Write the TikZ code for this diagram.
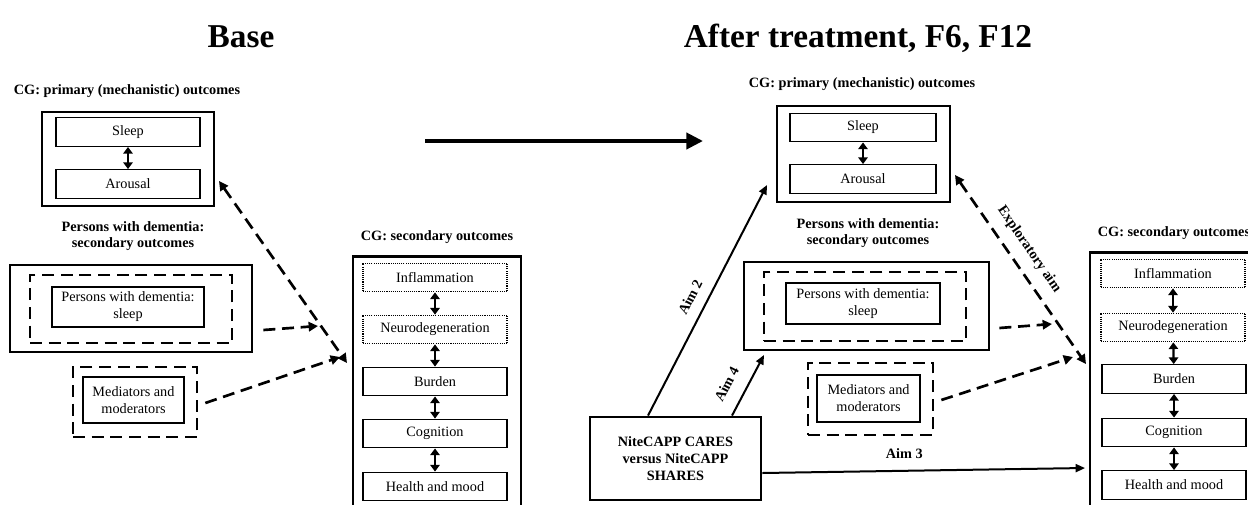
\documentclass[tikz,border=0pt]{standalone}
\usepackage{fontspec}
\setmainfont{Liberation Serif}
\usepackage{tikz}
\usetikzlibrary{arrows.meta,calc}

\newcommand{\boxfont}{\fontsize{10.7}{12.8}\selectfont}
\newcommand{\headfont}{\fontsize{10.7}{11.5}\selectfont\bfseries}
\newcommand{\bigtitle}{\fontsize{25}{30}\selectfont\bfseries}

\begin{document}
\begin{tikzpicture}[x=0.75pt,y=0.75pt,yscale=-1,xscale=1,
  outerbox/.style={draw, line width=2.1pt, inner sep=0pt},
  dashbox/.style={draw, line width=2pt, dash pattern=on 9pt off 5pt, inner sep=0pt},
  itembox/.style={draw, line width=0.9pt, inner sep=0pt, minimum width=108pt, minimum height=21.5pt, align=center, font=\boxfont},
  dotbox/.style={itembox, line width=0.8pt, dash pattern=on 0.8pt off 0.8pt},
  heading/.style={inner sep=0pt, align=center, font=\headfont},
  twoway/.style={line width=1.7pt, {Triangle[length=5pt,width=7pt]}-{Triangle[length=5pt,width=7pt]}},
  dasharrow/.style={line width=2pt, dash pattern=on 9pt off 5pt, -{Triangle[length=7pt,width=7pt]}},
  explarrow/.style={dasharrow, {Triangle[length=7pt,width=7pt]}-{Triangle[length=7pt,width=7pt]}},
  aimarrow/.style={line width=1.5pt, -{Triangle[length=7pt,width=6pt]}},
  bigarrow/.style={line width=3pt, -{Triangle[length=12.5pt,width=12pt]}},
  aimlabel/.style={inner sep=2pt, font=\headfont}
]
%set diagram frame: 1248 x 504
\useasboundingbox (0,0) rectangle (1248,504);
\clip (0,0) rectangle (1248,504);
\fill[white] (0,0) rectangle (1248,504);

% Titles
\node[anchor=base, inner sep=0pt, font=\bigtitle] (titleBase) at (241,47) {Base};
\node[anchor=base, inner sep=0pt, font=\bigtitle] (titleAfter) at (858,47) {After treatment, F6, F12};

%%%% Base panel
% CG primary
\node[heading] (primLblL) at (127,91) {CG: primary (mechanistic) outcomes};
\node[outerbox, minimum width=129pt, minimum height=70.5pt] (primL) at (128,159) {};
\node[itembox] (sleepL) at (128,132) {Sleep};
\node[itembox] (arousalL) at (128,184) {Arousal};
\draw[twoway] (sleepL) -- (arousalL);

% Persons with dementia
\node[heading] (pwdLblL) at (133,236) {Persons with dementia:\\secondary outcomes};
\node[outerbox, minimum width=181.5pt, minimum height=65.25pt] (pwdL) at (131,308.5) {};
\node[dashbox, minimum width=151.5pt, minimum height=51pt] (pwdDashL) at (131,309) {};
\node[itembox, minimum width=114pt, minimum height=30pt] (pwdSleepL) at (128,307) {Persons with dementia:\\sleep};

% Mediators
\node[dashbox, minimum width=93pt, minimum height=52.5pt] (medDashL) at (135,402) {};
\node[itembox, minimum width=75.75pt, minimum height=34.5pt] (medL) at (133.5,400) {Mediators and\\moderators};

% CG secondary
\node[heading] (secLblL) at (437,237) {CG: secondary outcomes};
\node[outerbox, minimum width=126pt, minimum height=194pt] (secL) at (437,385.5) {};
\node[dotbox] (inflL) at (435,277.5) {Inflammation};
\node[dotbox] (neuroL) at (435,329.5) {Neurodegeneration};
\node[itembox] (burdenL) at (435,381.5) {Burden};
\node[itembox] (cognL) at (435,433.5) {Cognition};
\node[itembox] (healthL) at (435,486.5) {Health and mood};
\foreach \a/\b in {inflL/neuroL, neuroL/burdenL, burdenL/cognL, cognL/healthL}
  \draw[twoway] (\a) -- (\b);

% dashed links
\coordinate (explTopL) at (219,181);
\coordinate (explTipL) at (347,363);
\coordinate (pwdTipL) at (318,326);
\coordinate (medTipL) at (340,357);
\draw[explarrow] (explTopL) -- (explTipL);
\draw[dasharrow] ($(pwdL.east)+(10,21.5)$) -- (pwdTipL);
\draw[dasharrow] ($(medDashL.east)+(7,1)$) -- (medTipL);

%Straight Lines: base -> after
\coordinate (baseOut) at (425,141);
\coordinate (afterIn) at (703,141);
\draw[bigarrow] (baseOut) -- (afterIn);

%%%% After treatment panel
% CG primary
\node[heading] (primLblR) at (862,84) {CG: primary (mechanistic) outcomes};
\node[outerbox, minimum width=129.75pt, minimum height=72pt] (primR) at (863.5,154) {};
\node[itembox, minimum width=109.5pt] (sleepR) at (863,127.5) {Sleep};
\node[itembox, minimum width=109.5pt] (arousalR) at (863,179) {Arousal};
\draw[twoway] (sleepR) -- (arousalR);

% Persons with dementia
\node[heading] (pwdLblR) at (868,233) {Persons with dementia:\\secondary outcomes};
\node[outerbox, minimum width=183.75pt, minimum height=66pt] (pwdR) at (866.5,306) {};
\node[dashbox, minimum width=151.5pt, minimum height=51.75pt] (pwdDashR) at (865,306.5) {};
\node[itembox, minimum width=115.5pt, minimum height=30.75pt] (pwdSleepR) at (863,303.5) {Persons with dementia:\\sleep};

% Mediators
\node[dashbox, minimum width=93.75pt, minimum height=54pt] (medDashR) at (870.5,399) {};
\node[itembox, minimum width=77.25pt, minimum height=35.25pt] (medR) at (868.5,398.5) {Mediators and\\moderators};

% Intervention
\node[outerbox, minimum width=128.25pt, minimum height=62.25pt, align=center, font=\boxfont\bfseries] (niteR) at (675.5,458.5) {NiteCAPP CARES\\versus NiteCAPP\\SHARES};

% CG secondary
\node[heading] (secLblR) at (1174,233) {CG: secondary outcomes};
\node[outerbox, minimum width=126pt, minimum height=197pt] (secR) at (1174,383.5) {};
\node[dotbox] (inflR) at (1173,273.5) {Inflammation};
\node[dotbox] (neuroR) at (1173,327.5) {Neurodegeneration};
\node[itembox] (burdenR) at (1174,379) {Burden};
\node[itembox] (cognR) at (1174,432.5) {Cognition};
\node[itembox] (healthR) at (1174,485) {Health and mood};
\foreach \a/\b in {inflR/neuroR, neuroR/burdenR, burdenR/cognR, cognR/healthR}
  \draw[twoway] (\a) -- (\b);

% aims
\coordinate (aim2Tip) at (767,185);
\coordinate (aim4Tip) at (764,355);
\coordinate (aim3Tip) at (1085,468);
\draw[aimarrow] ($(niteR.north)+(-27.5,0)$) -- node[aimlabel, rotate=62.8, anchor=south, outer sep=7pt, pos=0.48] {Aim 2} (aim2Tip);
\draw[aimarrow] ($(niteR.north)+(56.5,0)$) -- node[aimlabel, rotate=62.5, anchor=south, outer sep=9pt, pos=0.37] {Aim 4} (aim4Tip);
\draw[aimarrow] ($(niteR.east)+(0,14.5)$) -- node[aimlabel, above=6.5pt, pos=0.44] {Aim 3} (aim3Tip);

% dashed links
\coordinate (explTopR) at (955,175);
\coordinate (explTipR) at (1086,364);
\coordinate (pwdTipR) at (1052,324);
\coordinate (medTipR) at (1073,357);
\draw[explarrow] (explTopR) -- node[aimlabel, rotate=-55.3, anchor=south, outer sep=7pt, pos=0.45] {Exploratory aim} (explTipR);
\draw[dasharrow] ($(pwdR.east)+(9,22)$) -- (pwdTipR);
\draw[dasharrow] ($(medDashR.east)+(7,1)$) -- (medTipR);

\end{tikzpicture}
\end{document}
